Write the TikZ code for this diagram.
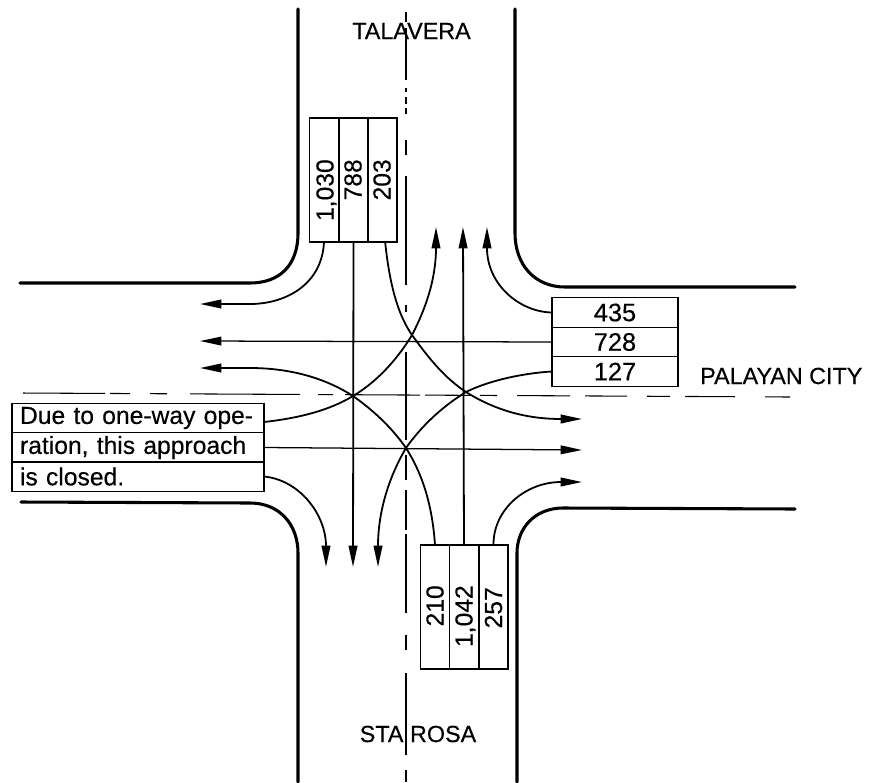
\documentclass[tikz,border=0pt]{standalone}
\usepackage{fontspec}
\setmainfont{Liberation Sans}[FakeBold=0.35]
\usetikzlibrary{arrows.meta}
\def\pxu{0.75pt}
\tikzset{
  x=0.75pt,y=-0.75pt,
  road/.style={line width=2.3pt,line cap=round},
  center line/.style={line width=0.8pt},
  cell/.style={draw,line width=0.9pt,inner sep=0pt,outer sep=0pt,font=\fontsize{19}{20}\selectfont},
  vcell/.style={cell,minimum width=29*\pxu,minimum height=124*\pxu},
  hcell/.style={cell,minimum width=126*\pxu,minimum height=29.3*\pxu},
  lcell/.style={cell,minimum height=29.3*\pxu,text width=236*\pxu,inner xsep=8*\pxu,align=left,font=\fontsize{18.5}{20}\selectfont},
  vtext/.style={rotate=90,anchor=base east,inner sep=0pt,font=\fontsize{18.5}{20}\selectfont},
  place/.style={inner sep=0pt,font=\fontsize{17.5}{20}\selectfont},
  flow/.style={line width=1.35pt,-{Triangle[length=16pt,width=6.5pt]}},
  thru/.style={line width=0.95pt,-{Triangle[length=16pt,width=6.5pt]}},
}
\begin{document}
\begin{tikzpicture}
\useasboundingbox (0,0) rectangle (870,782);
\fill[white] (0,0) rectangle (870,782);
% roads
\draw[road] (298,9) -- (298,233) .. controls (298,265) and (280,283) .. (250,283) -- (20,283);
\draw[road] (515,9) -- (515,233) .. controls (515,265) and (535,287) .. (565,287) -- (795,287);
\draw[road] (517,782) -- (517,553) .. controls (517,528) and (535,508) .. (563,508) -- (795,509);
\draw[road] (298,782) -- (298,553) .. controls (298,525) and (280,503) .. (250,503) -- (21,502);
% centre lines
\foreach \a/\b in {12/22,28/80,88/92,97/104,108/114,140/155,176/285,305/312,352/440,455/480,490/530,534/613,635/650,673/755,770/782}
  \draw[center line] (406,\a) -- (406,\b);
\foreach \a/\b in {23/105,110/130,150/167,190/300,318/333,345/420,425/470,480/497,517/570,585/627,647/670,685/735,765/790}
  \draw[center line] (\a,{393+(\a-20)*4/770}) -- (\b,{393+(\b-20)*4/770});
% approach boxes
\node[vcell] (t1) at (324,180) {};
\node[vcell] (t2) at (353.5,180) {};
\node[vcell] (t3) at (382.5,180) {};
\node[vtext] (t1x) at (333.5,159) {1,030};
\node[vtext] (t2x) at (361.5,159) {788};
\node[vtext] (t3x) at (390.5,159) {203};
\node[hcell] (r1) at (615,312.5) {435};
\node[hcell] (r2) at (615,342) {728};
\node[hcell] (r3) at (615,371.5) {127};
\node[vcell] (b1) at (435,607) {};
\node[vcell] (b2) at (464,607) {};
\node[vcell] (b3) at (493.5,607) {};
\node[vtext] (b1x) at (443.5,585) {210};
\node[vtext] (b2x) at (472.5,585) {1,042};
\node[vtext] (b3x) at (502,587) {257};
\node[lcell] (l1) at (138,418) {Due to one-way ope-};
\node[lcell] (l2) at (138,447.5) {ration, this approach};
\node[lcell] (l3) at (138,476.5) {is closed.};
% place names
\node[place] (north) at (411.5,31) {TALAVERA};
\node[place] (south) at (418,734) {STA\hspace{5pt}ROSA};
\node[place,anchor=west] (east) at (700,376) {PALAYAN CITY};
% crossings and free ends
\coordinate (N) at (412,335);
\coordinate (W) at (353,396);
\coordinate (E) at (466,392);
\coordinate (S) at (406,448);
\coordinate (endA) at (200,304);
\coordinate (endB) at (353,567);
\coordinate (endC) at (582,419);
\coordinate (endD) at (487,227);
\coordinate (endE) at (200,341);
\coordinate (endF) at (378,567);
\coordinate (endG) at (200,368);
\coordinate (endH) at (463,227);
\coordinate (endI) at (582,482);
\coordinate (endJ) at (436,227);
\coordinate (endK) at (582,450);
\coordinate (endL) at (326,567);
% from north
\draw[flow] (t1.south) .. controls (322,285) and (285,304) .. (250,304) -- (endA);
\draw[flow] (t2.south) -- (endB);
\draw[flow] ([xshift=2pt]t3.south) .. controls (390,290) and (400,318) .. (N) .. controls (430,360) and (445,378) .. (E) .. controls (498,412) and (530,419) .. (endC);
% from east
\draw[flow] (r1.west) .. controls (520,312) and (487,285) .. (endD);
\draw[thru] (r2.west) -- (endE);
\draw[flow] (r3.west) .. controls (525,373) and (490,380) .. (E) .. controls (440,408) and (420,428) .. (S) .. controls (390,475) and (378,510) .. (endF);
% from south
\draw[flow] (b1.north) .. controls (432,500) and (420,470) .. (S) .. controls (390,425) and (370,408) .. (W) .. controls (325,378) and (290,368) .. (250,368) -- (endG);
\draw[flow] (b2.north) -- (endH);
\draw[flow] (b3.north) .. controls (493,510) and (525,482) .. (endI);
% from west
\draw[flow] ([yshift=-3pt]l1.east) .. controls (300,418) and (330,410) .. (W) .. controls (380,380) and (400,355) .. (N) .. controls (425,310) and (436,280) .. (endJ);
\draw[thru] (l2.east) -- (endK);
\draw[flow] (l3.east) .. controls (300,480) and (326,515) .. (endL);
\end{tikzpicture}
\end{document}
